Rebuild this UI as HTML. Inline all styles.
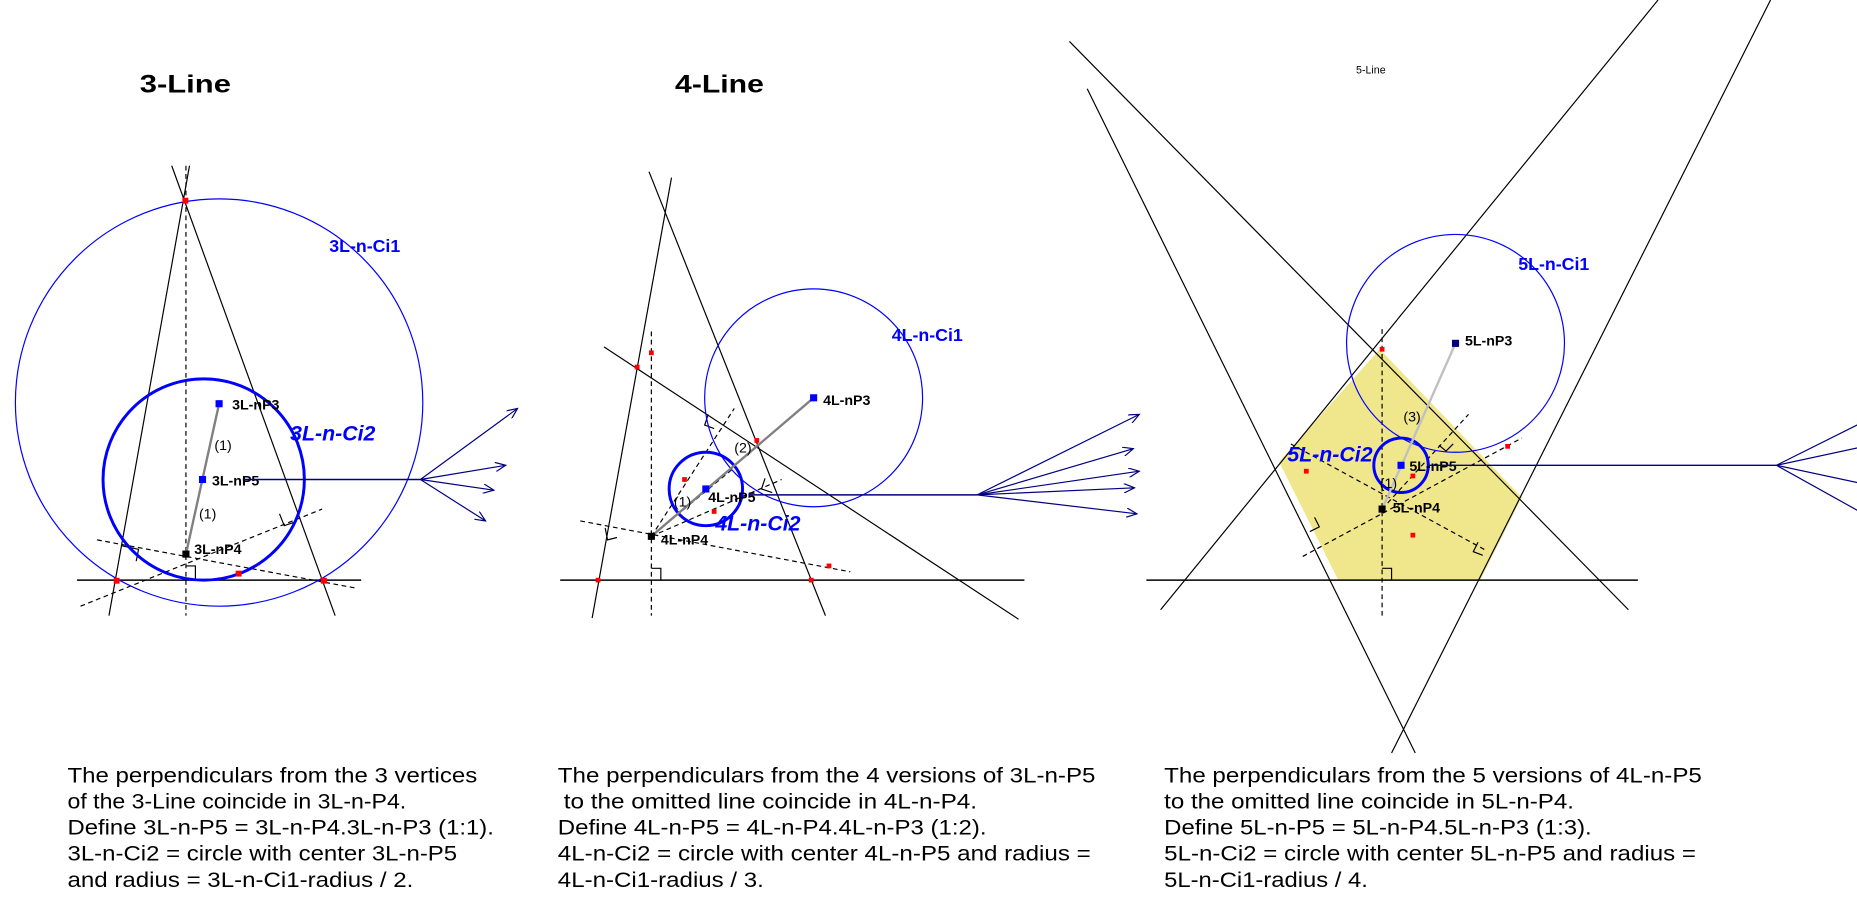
<!DOCTYPE html>
<html><head><meta charset="utf-8"><style>
html,body{margin:0;padding:0;background:#fff;}
svg{display:block;}
text{font-family:"Liberation Sans",Arial,sans-serif;}
</style></head><body>
<svg width="1857" height="914" viewBox="0 0 1568 772" preserveAspectRatio="none" xmlns="http://www.w3.org/2000/svg">
<defs>
<marker id="ah" markerWidth="10" markerHeight="8" refX="9" refY="4" orient="auto" markerUnits="userSpaceOnUse">
<path d="M0,0 L9,4 L0,8" fill="none" stroke="#000080" stroke-width="1"/></marker>
</defs>

<!-- Panel 1 -->
<text x="118" y="78" font-size="21" font-weight="bold" textLength="77" lengthAdjust="spacingAndGlyphs">3-Line</text>
<line x1="145" y1="140" x2="283" y2="520" stroke="#000" stroke-width="1"/>
<line x1="160" y1="140" x2="92" y2="520" stroke="#000" stroke-width="1"/>
<line x1="157" y1="140" x2="157" y2="520" stroke="#000" stroke-dasharray="4,3"/>
<line x1="65" y1="490" x2="305" y2="490" stroke="#000" stroke-width="1.2"/>
<line x1="82" y1="456" x2="302" y2="497" stroke="#000" stroke-dasharray="4,3"/>
<line x1="68" y1="512" x2="272" y2="430" stroke="#000" stroke-dasharray="4,3"/>
<path d="M157,478 h8 v12" fill="none" stroke="#000"/>
<path d="M103,461 l14,3 l-2,10" fill="none" stroke="#000"/>
<path d="M236,434 l4,10 l9,-3" fill="none" stroke="#000"/>
<circle cx="185" cy="340" r="172" fill="none" stroke="#0000ff" stroke-width="1"/>
<circle cx="172" cy="405" r="85" fill="none" stroke="#0000ff" stroke-width="2.5"/>
<line x1="157" y1="468" x2="185" y2="341" stroke="#808080" stroke-width="2"/>
<rect x="182" y="338" width="6" height="6" fill="#0000ff"/>
<rect x="168" y="402" width="6" height="6" fill="#0000ff"/>
<rect x="154" y="465" width="6" height="6" fill="#000"/>
<rect x="154" y="167" width="5" height="5" fill="#f00"/>
<rect x="96" y="488" width="5" height="5" fill="#f00"/>
<rect x="271" y="488" width="5" height="5" fill="#f00"/>
<rect x="199" y="482" width="5" height="5" fill="#f00"/>
<text x="196" y="346" font-size="12" font-weight="bold">3L-nP3</text>
<text x="179" y="410" font-size="12" font-weight="bold">3L-nP5</text>
<text x="164" y="468" font-size="12" font-weight="bold">3L-nP4</text>
<text x="181" y="380" font-size="12">(1)</text>
<text x="168" y="438" font-size="12">(1)</text>
<text x="278" y="213" font-size="15" font-weight="bold" fill="#0000ff">3L-n-Ci1</text>
<text x="245" y="372" font-size="18" font-weight="bold" font-style="italic" fill="#0000ff">3L-n-Ci2</text>
<line x1="205" y1="405" x2="355" y2="405" stroke="#000080" stroke-width="1.2"/>
<line x1="355" y1="405" x2="437" y2="345" stroke="#000080" marker-end="url(#ah)"/>
<line x1="355" y1="405" x2="427" y2="393" stroke="#000080" marker-end="url(#ah)"/>
<line x1="355" y1="405" x2="417" y2="414" stroke="#000080" marker-end="url(#ah)"/>
<line x1="355" y1="405" x2="410" y2="440" stroke="#000080" marker-end="url(#ah)"/>

<!-- Panel 2 -->
<text x="570" y="78" font-size="21" font-weight="bold" textLength="75" lengthAdjust="spacingAndGlyphs">4-Line</text>
<line x1="548" y1="145" x2="697" y2="520" stroke="#000"/>
<line x1="567" y1="150" x2="500" y2="522" stroke="#000"/>
<line x1="510" y1="293" x2="860" y2="523" stroke="#000"/>
<line x1="473" y1="490" x2="865" y2="490" stroke="#000" stroke-width="1.2"/>
<line x1="550" y1="280" x2="550" y2="520" stroke="#000" stroke-dasharray="4,3"/>
<line x1="490" y1="440" x2="718" y2="483" stroke="#000" stroke-dasharray="4,3"/>
<line x1="550" y1="453" x2="620" y2="395" stroke="#000" stroke-dasharray="4,3"/>
<line x1="550" y1="453" x2="620" y2="345" stroke="#000" stroke-dasharray="4,3"/>
<line x1="550" y1="453" x2="660" y2="405" stroke="#000" stroke-dasharray="4,3"/>
<path d="M550,480 h8 v10" fill="none" stroke="#000"/>
<path d="M511,446 l2,10 l8,-2" fill="none" stroke="#000"/>
<path d="M598,350 l-3,9 l8,3" fill="none" stroke="#000"/>
<path d="M646,404 l-3,9 l9,3" fill="none" stroke="#000"/>
<circle cx="687" cy="336" r="92" fill="none" stroke="#0000ff"/>
<circle cx="596" cy="413" r="31" fill="none" stroke="#0000ff" stroke-width="2.5"/>
<line x1="550" y1="453" x2="687" y2="336" stroke="#808080" stroke-width="2"/>
<rect x="684" y="333" width="6" height="6" fill="#0000ff"/>
<rect x="593" y="410" width="6" height="6" fill="#0000ff"/>
<rect x="547" y="450" width="6" height="6" fill="#000"/>
<g fill="#f00">
<rect x="536" y="308" width="4" height="4"/><rect x="548" y="296" width="4" height="4"/>
<rect x="637" y="370" width="4" height="4"/><rect x="503" y="488" width="4" height="4"/>
<rect x="683" y="488" width="4" height="4"/><rect x="576" y="403" width="4" height="4"/>
<rect x="601" y="430" width="4" height="4"/><rect x="698" y="476" width="4" height="4"/>
</g>
<text x="695" y="342" font-size="12" font-weight="bold">4L-nP3</text>
<text x="598" y="424" font-size="12" font-weight="bold">4L-nP5</text>
<text x="558" y="460" font-size="12" font-weight="bold">4L-nP4</text>
<text x="620" y="382" font-size="12">(2)</text>
<text x="569" y="428" font-size="12">(1)</text>
<text x="753" y="288" font-size="15" font-weight="bold" fill="#0000ff">4L-n-Ci1</text>
<text x="604" y="448" font-size="18" font-weight="bold" font-style="italic" fill="#0000ff">4L-n-Ci2</text>
<line x1="632" y1="418" x2="825" y2="418" stroke="#000080" stroke-width="1.2"/>
<line x1="825" y1="418" x2="962" y2="350" stroke="#000080" marker-end="url(#ah)"/>
<line x1="825" y1="418" x2="957" y2="379" stroke="#000080" marker-end="url(#ah)"/>
<line x1="825" y1="418" x2="962" y2="398" stroke="#000080" marker-end="url(#ah)"/>
<line x1="825" y1="418" x2="958" y2="412" stroke="#000080" marker-end="url(#ah)"/>
<line x1="825" y1="418" x2="960" y2="434" stroke="#000080" marker-end="url(#ah)"/>

<!-- Panel 3 -->
<text x="1145" y="62" font-size="9">5-Line</text>
<polygon points="1165,295 1285,420 1250,490 1130,490 1080,390" fill="#f0e68c"/>
<line x1="1400" y1="0" x2="980" y2="515" stroke="#000"/>
<line x1="903" y1="35" x2="1375" y2="515" stroke="#000"/>
<line x1="1495" y1="0" x2="1175" y2="636" stroke="#000"/>
<line x1="918" y1="75" x2="1195" y2="636" stroke="#000"/>
<line x1="968" y1="490" x2="1383" y2="490" stroke="#000" stroke-width="1.2"/>
<line x1="1167" y1="278" x2="1167" y2="520" stroke="#000" stroke-dasharray="4,3"/>
<line x1="1090" y1="375" x2="1255" y2="465" stroke="#000" stroke-dasharray="4,3"/>
<line x1="1100" y1="470" x2="1285" y2="370" stroke="#000" stroke-dasharray="4,3"/>
<line x1="1167" y1="430" x2="1240" y2="350" stroke="#000" stroke-dasharray="4,3"/>
<path d="M1167,480 h8 v10" fill="none" stroke="#000"/>
<path d="M1110,437 l4,8 l-8,4" fill="none" stroke="#000"/>
<path d="M1248,458 l-4,8 l8,3" fill="none" stroke="#000"/>
<path d="M1215,376 l6,5 l6,-6" fill="none" stroke="#000"/>
<circle cx="1229" cy="290" r="92" fill="none" stroke="#0000ff"/>
<circle cx="1183" cy="393" r="23" fill="none" stroke="#0000ff" stroke-width="2.5"/>
<line x1="1167" y1="430" x2="1229" y2="290" stroke="#c0c0c0" stroke-width="2"/>
<rect x="1226" y="287" width="6" height="6" fill="#000080"/>
<rect x="1180" y="390" width="6" height="6" fill="#0000ff"/>
<rect x="1164" y="427" width="6" height="6" fill="#000"/>
<g fill="#f00">
<rect x="1165" y="293" width="4" height="4"/><rect x="1101" y="396" width="4" height="4"/>
<rect x="1271" y="375" width="4" height="4"/><rect x="1191" y="400" width="4" height="4"/>
<rect x="1191" y="450" width="4" height="4"/>
</g>
<text x="1237" y="292" font-size="12" font-weight="bold">5L-nP3</text>
<text x="1190" y="398" font-size="12" font-weight="bold">5L-nP5</text>
<text x="1176" y="433" font-size="12" font-weight="bold">5L-nP4</text>
<text x="1185" y="356" font-size="12">(3)</text>
<text x="1165" y="412" font-size="12">(1)</text>
<text x="1282" y="228" font-size="15" font-weight="bold" fill="#0000ff">5L-n-Ci1</text>
<text x="1087" y="390" font-size="18" font-weight="bold" font-style="italic" fill="#0000ff">5L-n-Ci2</text>
<line x1="1207" y1="393" x2="1500" y2="393" stroke="#000080" stroke-width="1.2"/>
<line x1="1500" y1="393" x2="1570" y2="358" stroke="#000080"/>
<line x1="1500" y1="393" x2="1570" y2="378" stroke="#000080"/>
<line x1="1500" y1="393" x2="1570" y2="408" stroke="#000080"/>
<line x1="1500" y1="393" x2="1570" y2="432" stroke="#000080"/>

<!-- Captions -->
<g font-size="18" fill="#000" lengthAdjust="spacingAndGlyphs">
<text x="57" y="661" textLength="346" lengthAdjust="spacingAndGlyphs">The perpendiculars from the 3 vertices</text>
<text x="57" y="683" textLength="286" lengthAdjust="spacingAndGlyphs">of the 3-Line coincide in 3L-n-P4.</text>
<text x="57" y="705" textLength="360" lengthAdjust="spacingAndGlyphs">Define 3L-n-P5 = 3L-n-P4.3L-n-P3 (1:1).</text>
<text x="57" y="727" textLength="329" lengthAdjust="spacingAndGlyphs">3L-n-Ci2 = circle with center 3L-n-P5</text>
<text x="57" y="749" textLength="292" lengthAdjust="spacingAndGlyphs">and radius = 3L-n-Ci1-radius / 2.</text>
<text x="471" y="661" textLength="454" lengthAdjust="spacingAndGlyphs">The perpendiculars from the 4 versions of 3L-n-P5</text>
<text x="476" y="683" textLength="349" lengthAdjust="spacingAndGlyphs">to the omitted line coincide in 4L-n-P4.</text>
<text x="471" y="705" textLength="362" lengthAdjust="spacingAndGlyphs">Define 4L-n-P5 = 4L-n-P4.4L-n-P3 (1:2).</text>
<text x="471" y="727" textLength="450" lengthAdjust="spacingAndGlyphs">4L-n-Ci2 = circle with center 4L-n-P5 and radius =</text>
<text x="471" y="749" textLength="174" lengthAdjust="spacingAndGlyphs">4L-n-Ci1-radius / 3.</text>
<text x="983" y="661" textLength="454" lengthAdjust="spacingAndGlyphs">The perpendiculars from the 5 versions of 4L-n-P5</text>
<text x="983" y="683" textLength="346" lengthAdjust="spacingAndGlyphs">to the omitted line coincide in 5L-n-P4.</text>
<text x="983" y="705" textLength="361" lengthAdjust="spacingAndGlyphs">Define 5L-n-P5 = 5L-n-P4.5L-n-P3 (1:3).</text>
<text x="983" y="727" textLength="449" lengthAdjust="spacingAndGlyphs">5L-n-Ci2 = circle with center 5L-n-P5 and radius =</text>
<text x="983" y="749" textLength="172" lengthAdjust="spacingAndGlyphs">5L-n-Ci1-radius / 4.</text>
</g>
</svg>
</body></html>
